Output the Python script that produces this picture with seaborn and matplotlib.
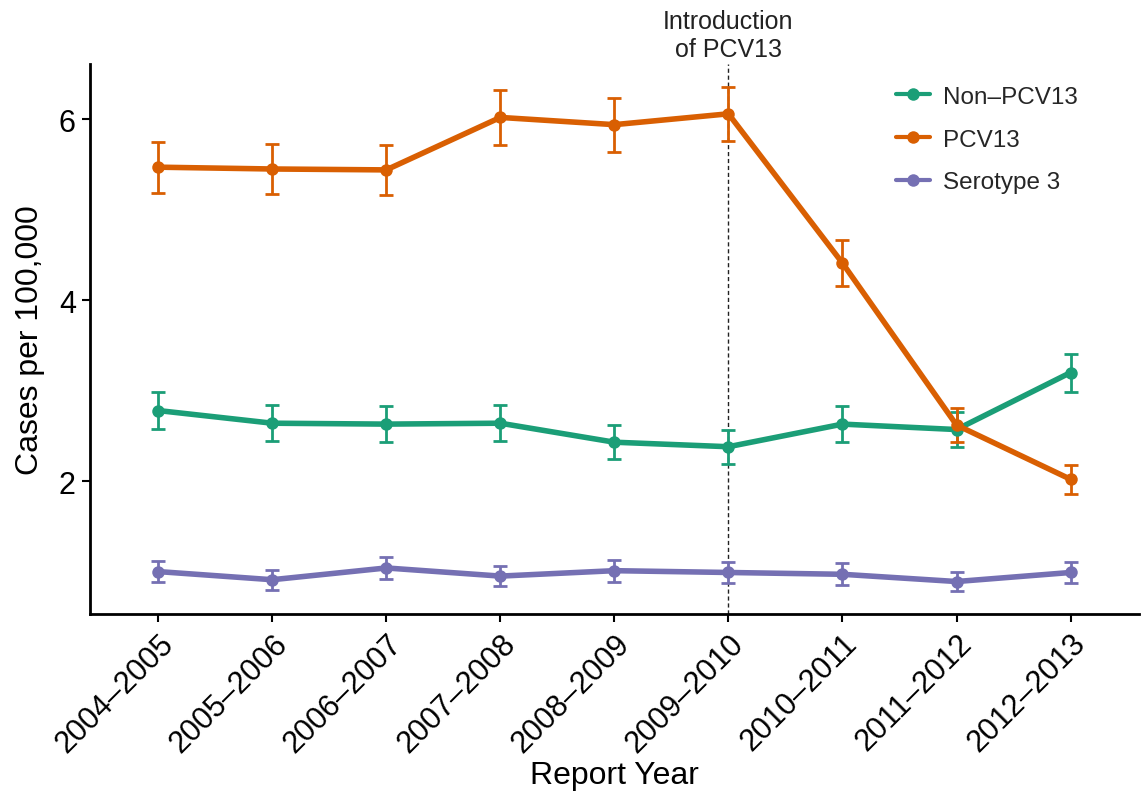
import matplotlib
matplotlib.use("Agg")
import matplotlib.pyplot as plt
import matplotlib.transforms as mtransforms
import seaborn as sns
import pandas as pd
import numpy as np

years = ["2004–2005", "2005–2006", "2006–2007", "2007–2008", "2008–2009",
         "2009–2010", "2010–2011", "2011–2012", "2012–2013"]
series_names = ["Non–PCV13", "PCV13", "Serotype 3"]

non_pcv13 = [2.78, 2.64, 2.63, 2.64, 2.43, 2.38, 2.63, 2.57, 3.20]
non_pcv13_err = [0.20, 0.20, 0.20, 0.20, 0.19, 0.19, 0.20, 0.19, 0.21]

pcv13 = [5.47, 5.45, 5.44, 6.02, 5.94, 6.06, 4.41, 2.62, 2.02]
pcv13_err = [0.28, 0.28, 0.28, 0.30, 0.30, 0.30, 0.25, 0.19, 0.16]

serotype3 = [1.00, 0.91, 1.04, 0.95, 1.01, 0.99, 0.97, 0.89, 0.99]
serotype3_err = [0.12, 0.11, 0.12, 0.11, 0.12, 0.12, 0.12, 0.11, 0.12]

colors = ["#1B9E77", "#D95F02", "#7570B3"]

rows = []
for name, vals, errs in zip(series_names, [non_pcv13, pcv13, serotype3],
                            [non_pcv13_err, pcv13_err, serotype3_err]):
    for i, (y, v, e) in enumerate(zip(years, vals, errs)):
        rows.append({"Report Year": y, "idx": i, "Cases": v, "err": e, "Series": name})
df = pd.DataFrame(rows)

sns.set_theme(style="white")
plt.rcParams['font.family'] = ['Liberation Sans', 'DejaVu Sans']

fig = plt.figure(figsize=(11.43, 8.03), dpi=100)
ax = fig.add_axes([0.0785, 0.234, 0.918, 0.685])

sns.lineplot(data=df, x="idx", y="Cases", hue="Series", hue_order=series_names,
             palette=colors, marker="o", markersize=9, markeredgewidth=0,
             linewidth=4, ax=ax, legend=True)

for name, col in zip(series_names, colors):
    sub = df[df["Series"] == name]
    ax.errorbar(sub["idx"], sub["Cases"], yerr=sub["err"], fmt="none",
                ecolor=col, elinewidth=2, capsize=5, capthick=2, zorder=1)

ax.axvline(5, ymin=0, ymax=1.0, color="#222222", linestyle=(0, (3, 2)),
           linewidth=1, zorder=0)
trans = mtransforms.blended_transform_factory(ax.transData, ax.transAxes)
ax.text(5, 1.005, "Introduction\nof PCV13", transform=trans, ha="center", va="bottom",
        fontsize=18, color="#222222", linespacing=1.25)

ax.set_xlim(-0.6, 8.6)
ax.set_ylim(0.53, 6.61)
ax.set_xticks(range(len(years)))
ax.set_xticklabels(years, rotation=45, ha="right", rotation_mode="anchor",
                   fontsize=22, color="black")
ax.set_yticks([2, 4, 6])
ax.set_yticklabels(["2", "4", "6"], fontsize=22, color="black")
ax.set_xlabel("Report Year", fontsize=23, color="black", labelpad=2)
ax.set_ylabel("Cases per 100,000", fontsize=23, color="black", labelpad=10)

ax.tick_params(axis="both", direction="out", length=6, width=1.5, color="black",
               bottom=True, left=True, pad=4)
for s in ["top", "right"]:
    ax.spines[s].set_visible(False)
for s in ["left", "bottom"]:
    ax.spines[s].set_color("black")
    ax.spines[s].set_linewidth(2)

handles, labels = ax.get_legend_handles_labels()
leg = ax.legend(handles, labels, loc="upper left", bbox_to_anchor=(0.748, 1.0),
                frameon=False, fontsize=17.5, handlelength=1.4, handletextpad=0.5,
                labelspacing=0.85, title=None)
for h in leg.legend_handles:
    h.set_linewidth(3)

fig.savefig("out.png", dpi=100, facecolor="white")
